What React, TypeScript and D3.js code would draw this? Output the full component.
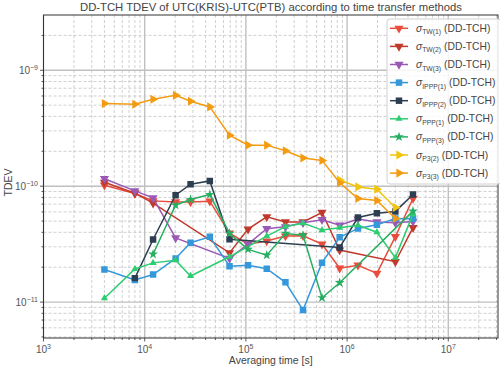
import React from 'react';
import * as d3 from 'd3';

// averaging times [s]
const taus = [4000, 8000, 12100, 20200, 28400, 44000, 68900, 105000, 160700, 246000, 367000, 565000, 845000, 1.28e6, 1.97e6, 3.0e6, 4.48e6];

type V = number | null;
const tw1: V[] = [1.02e-10, 8.65e-11, 7.47e-11, 7.32e-11, 7.32e-11, 7.42e-11, 3.94e-11, 3.16e-11, 3.36e-11, 3.71e-11, 3.74e-11, 3.16e-11, 1.96e-11, 2.08e-11, 1.77e-11, 3.67e-11, 7.83e-11];
const tw2: V[] = [1.08e-10, 8.7e-11, 7.14e-11, null, null, null, 2.66e-11, 4.26e-11, 5.44e-11, 4.92e-11, 4.92e-11, 5.93e-11, 2.81e-11, null, null, 2.23e-11, 4.39e-11];
const tw3: V[] = [1.16e-10, 9.11e-11, 7.93e-11, 3.58e-11, null, null, 2.38e-11, 3.16e-11, 4.3e-11, 4.46e-11, 4.83e-11, 5.14e-11, 4.61e-11, 5.2e-11, 4.92e-11, 4.83e-11, 4.96e-11];
const ippp1: V[] = [1.91e-11, 1.55e-11, 1.73e-11, 2.38e-11, 3.25e-11, 3.66e-11, 2.04e-11, 2.08e-11, 1.94e-11, 1.48e-11, 8.53e-12, 2.19e-11, 3.62e-11, 4.32e-11, 4.64e-11, 5.27e-11, 5.23e-11];
const ippp2: V[] = [null, 1.61e-11, 3.47e-11, 8.36e-11, 1.04e-10, 1.11e-10, 3.49e-11, null, null, null, null, null, 2.96e-11, 5.37e-11, 5.85e-11, 6.06e-11, 8.48e-11];
const ppp1: V[] = [1.08e-11, 1.93e-11, 2.18e-11, 2.3e-11, 1.68e-11, null, 2.46e-11, null, 3.71e-11, 4.48e-11, 4.8e-11, 4.18e-11, 4.39e-11, 4.61e-11, 4.01e-11, 2.42e-11, 5.74e-11];
const ppp3: V[] = [null, null, 2.59e-11, 6.86e-11, 7.68e-11, 8.48e-11, 3.91e-11, 2.85e-11, 2.54e-11, 3.91e-11, 3.78e-11, 1.09e-11, 1.47e-11, null, null, null, 6.09e-11];
const p3b: V[] = [null, null, null, null, null, null, null, null, null, null, null, null, 1.13e-10, 9.86e-11, 9.42e-11, 6.55e-11, null];
const p3c: V[] = [5.16e-10, 5.09e-10, 5.62e-10, 6.08e-10, 5.41e-10, 4.83e-10, 2.75e-10, 2.26e-10, 2.26e-10, 2.02e-10, 1.75e-10, 1.67e-10, 1.07e-10, 7.83e-11, 7.53e-11, 5.27e-11, null];

const xTicks = [3, 4, 5, 6, 7];
const yTicks = [-11, -10, -9];

const series = [
  {sub: 'TW(1)', values: tw1, color: '#e74c3c', marker: 'down'},
  {sub: 'TW(2)', values: tw2, color: '#c0392b', marker: 'down'},
  {sub: 'TW(3)', values: tw3, color: '#9b59b6', marker: 'down'},
  {sub: 'IPPP(1)', values: ippp1, color: '#3498db', marker: 'square'},
  {sub: 'IPPP(2)', values: ippp2, color: '#2c3e50', marker: 'square'},
  {sub: 'PPP(1)', values: ppp1, color: '#2ecc71', marker: 'up'},
  {sub: 'PPP(3)', values: ppp3, color: '#27ae60', marker: 'star'},
  {sub: 'P3(2)', values: p3b, color: '#f1c40f', marker: 'right'},
  {sub: 'P3(3)', values: p3c, color: '#f39c12', marker: 'right'},
];

const W = 500, H = 369;
const L = 43.5, R = 498, T = 15, B = 338;
const FONT = '"Liberation Sans", Arial, sans-serif';

function markerPath(kind: string): {d: string; rot: number} {
  const s = d3.symbol();
  if (kind === 'square') return {d: s.type(d3.symbolSquare).size(42)() as string, rot: 0};
  if (kind === 'star') return {d: s.type(d3.symbolStar).size(30)() as string, rot: 0};
  if (kind === 'up') return {d: s.type(d3.symbolTriangle).size(22)() as string, rot: 0};
  const d = s.type(d3.symbolTriangle).size(36)() as string;
  return {d, rot: kind === 'down' ? 180 : 90};
}

export default function App() {
  const x = d3.scaleLog().domain([1e3, 3.1e7]).range([L, R]);
  const y = d3.scaleLog().domain([4.9e-12, 3e-9]).range([B, T]);

  const minorX: number[] = [];
  for (let e = 3; e <= 7; e++) for (let m = 2; m <= 9; m++) {
    const v = m * Math.pow(10, e);
    if (v < 3.1e7) minorX.push(v);
  }
  const minorY: number[] = [];
  for (let e = -12; e <= -9; e++) for (let m = 2; m <= 9; m++) {
    const v = m * Math.pow(10, e);
    if (v > 4.9e-12 && v < 3e-9) minorY.push(v);
  }

  const line = d3.line<[number, number]>().x(d => x(d[0])).y(d => y(d[1]));

  return (
    <svg width={W} height={H} style={{position: 'fixed', left: 0, top: 0, background: '#fff'}} fontFamily={FONT}>
      <defs>
        <clipPath id="plot"><rect x={L} y={T} width={R - L} height={B - T} /></clipPath>
      </defs>
      <rect width={W} height={H} fill="#fff" />
      {/* grid */}
      <g stroke="#c4c4c4" strokeWidth={0.8} strokeDasharray="3,2">
        {minorX.map(v => <line key={'mx' + v} x1={x(v)} x2={x(v)} y1={T} y2={B} />)}
        {minorY.map(v => <line key={'my' + v} x1={L} x2={R} y1={y(v)} y2={y(v)} />)}
      </g>
      <g stroke="#c0c0c0" strokeWidth={1.4}>
        {xTicks.map(e => <line key={'gx' + e} x1={x(Math.pow(10, e))} x2={x(Math.pow(10, e))} y1={T} y2={B} />)}
        {yTicks.map(e => <line key={'gy' + e} x1={L} x2={R} y1={y(Math.pow(10, e))} y2={y(Math.pow(10, e))} />)}
      </g>
      {/* series */}
      <g clipPath="url(#plot)">
        {series.map(s => {
          const pts = taus.map((t, i) => [t, s.values[i]] as [number, V]).filter(p => p[1] != null) as [number, number][];
          const m = markerPath(s.marker);
          return (
            <g key={s.sub}>
              <path d={line(pts) as string} fill="none" stroke={s.color} strokeWidth={1.5} />
              {pts.map((p, i) => (
                <path key={i} d={m.d} fill={s.color} transform={`translate(${x(p[0])},${y(p[1])}) rotate(${m.rot})`} />
              ))}
            </g>
          );
        })}
      </g>
      {/* frame */}
      <rect x={L} y={T} width={R - L} height={B - T} fill="none" stroke="#333" strokeWidth={1} />
      {/* ticks */}
      <g stroke="#333" strokeWidth={0.8}>
        {xTicks.map(e => <line key={'tx' + e} x1={x(Math.pow(10, e))} x2={x(Math.pow(10, e))} y1={B} y2={B + 3.5} />)}
        {minorX.map(v => <line key={'tmx' + v} x1={x(v)} x2={x(v)} y1={B} y2={B + 2} />)}
        {yTicks.map(e => <line key={'ty' + e} x1={L - 3.5} x2={L} y1={y(Math.pow(10, e))} y2={y(Math.pow(10, e))} />)}
        {minorY.map(v => <line key={'tmy' + v} x1={L - 2} x2={L} y1={y(v)} y2={y(v)} />)}
      </g>
      <g fill="#555" fontSize={10}>
        {xTicks.map(e => (
          <text key={'lx' + e} x={x(Math.pow(10, e))} y={353} textAnchor="middle">
            10<tspan fontSize={7} dy={-4}>{e}</tspan>
          </text>
        ))}
        {yTicks.map(e => (
          <text key={'ly' + e} x={38} y={y(Math.pow(10, e)) + 3.5} textAnchor="end">
            10<tspan fontSize={7} dy={-4}>{'\u2212' + Math.abs(e)}</tspan>
          </text>
        ))}
      </g>
      <text x={(L + R) / 2} y={364} textAnchor="middle" fontSize={10.5} fill="#444">Averaging time [s]</text>
      <text transform={`translate(12,${(T + B) / 2 + 6}) rotate(-90)`} textAnchor="middle" fontSize={10.5} fill="#444">TDEV</text>
      <text x={271} y={10.5} textAnchor="middle" fontSize={11.3} fill="#444" textLength={382} lengthAdjust="spacingAndGlyphs">DD-TCH TDEV of UTC(KRIS)-UTC(PTB) according to time transfer methods</text>
      {/* legend */}
      <g>
        <rect x={387} y={19} width={114} height={165} rx={3} fill="#fff" fillOpacity={0.85} stroke="#d0d0d0" />
        {series.map((s, i) => {
          const cy = 28.3 + i * 18.1;
          const m = markerPath(s.marker);
          return (
            <g key={'lg' + s.sub}>
              <line x1={390} x2={408} y1={cy} y2={cy} stroke={s.color} strokeWidth={1.5} />
              <path d={m.d} fill={s.color} transform={`translate(399,${cy}) rotate(${m.rot})`} />
              <text x={416} y={cy + 3.5} fontSize={10.3} fill="#444">
                <tspan fontStyle="italic">σ</tspan>
                <tspan fontSize={6.8} dy={2.5}>{s.sub}</tspan>
                <tspan dy={-2.5} dx={3}>(DD-TCH)</tspan>
              </text>
            </g>
          );
        })}
      </g>
    </svg>
  );
}
